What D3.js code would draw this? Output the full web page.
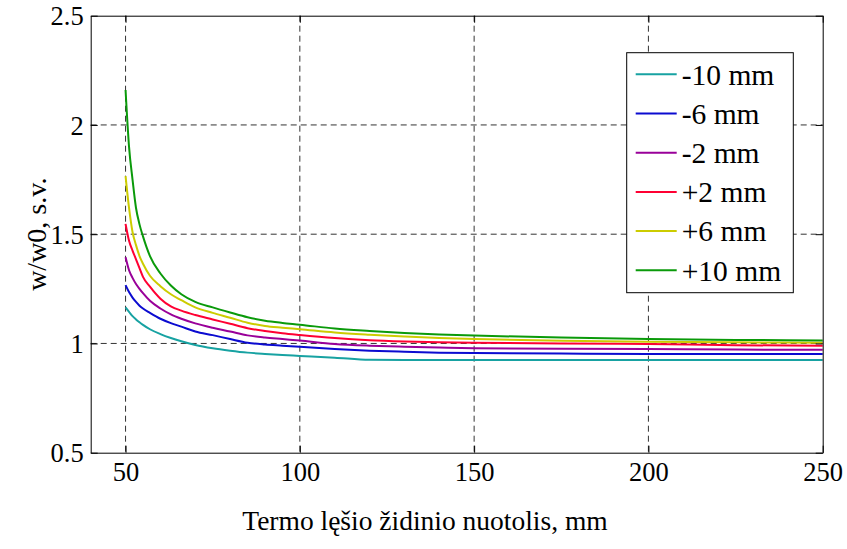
<!DOCTYPE html>
<meta charset="utf-8">
<script src="https://d3js.org/d3.v7.min.js"></script>
<style>
  body { margin: 0; background: #fff; }
  text { font-family: "Liberation Serif", "Times New Roman", serif; fill: #000; }
  .grid line { stroke: #333; stroke-dasharray: 6,4; stroke-width: 1; }
</style>
<svg id="chart" width="847" height="549"></svg>
<script>
  // focus distance of the lens, mm
  var xs = [50, 51, 52, 53, 54, 55, 57, 60, 63, 66, 70, 75, 80, 85, 90, 95, 100, 110, 120, 130, 140, 150, 175, 200, 225, 250];

  // w/w0 for each offset
  var m10 = [1.165, 1.145, 1.125, 1.11, 1.097, 1.085, 1.065, 1.043, 1.025, 1.01, 0.993, 0.978, 0.967, 0.958, 0.952, 0.947, 0.943, 0.935, 0.925, 0.924, 0.924, 0.924, 0.924, 0.924, 0.924, 0.924];
  var m6 = [1.267, 1.235, 1.21, 1.19, 1.173, 1.16, 1.14, 1.113, 1.093, 1.077, 1.055, 1.038, 1.02, 1.003, 0.995, 0.99, 0.985, 0.975, 0.967, 0.962, 0.958, 0.956, 0.954, 0.952, 0.952, 0.952];
  var m2 = [1.394, 1.335, 1.30, 1.272, 1.25, 1.23, 1.195, 1.16, 1.133, 1.113, 1.092, 1.072, 1.055, 1.037, 1.027, 1.02, 1.013, 0.998, 0.99, 0.985, 0.981, 0.978, 0.976, 0.975, 0.972, 0.971];
  var p2 = [1.547, 1.47, 1.425, 1.385, 1.345, 1.305, 1.26, 1.205, 1.17, 1.15, 1.13, 1.11, 1.09, 1.07, 1.057, 1.047, 1.039, 1.025, 1.015, 1.009, 1.005, 1.003, 1.0, 0.998, 0.992, 0.99];
  var p6 = [1.766, 1.62, 1.51, 1.45, 1.40, 1.365, 1.31, 1.262, 1.225, 1.198, 1.165, 1.14, 1.118, 1.095, 1.08, 1.072, 1.065, 1.05, 1.04, 1.032, 1.025, 1.02, 1.012, 1.008, 1.005, 1.003];
  var p10 = [2.16, 1.90, 1.75, 1.62, 1.545, 1.49, 1.40, 1.32, 1.265, 1.225, 1.19, 1.165, 1.142, 1.12, 1.104, 1.094, 1.086, 1.068, 1.057, 1.048, 1.041, 1.036, 1.027, 1.020, 1.016, 1.014];

  var names = ["-10 mm", "-6 mm", "-2 mm", "+2 mm", "+6 mm", "+10 mm"];
  var colors = ["#17a2a2", "#0b0bd0", "#990099", "#ff0033", "#cccc00", "#0a9a0a"];
  var series = [m10, m6, m2, p2, p6, p10];

  var xTicks = [50, 100, 150, 200, 250];
  var yTicks = [0.5, 1, 1.5, 2, 2.5];

  var svg = d3.select("#chart");
  var pLeft = 90.7, pRight = 822.7, pTop = 15.7, pBottom = 452.7;

  var x = d3.scaleLinear().domain([40, 250]).range([pLeft, pRight]);
  var y = d3.scaleLinear().domain([0.5, 2.5]).range([pBottom, pTop]);

  // grid
  var grid = svg.append("g").attr("class", "grid");
  grid.selectAll(".vx").data(xTicks.slice(0, -1)).enter().append("line")
    .attr("x1", d => x(d)).attr("x2", d => x(d))
    .attr("y1", pTop).attr("y2", pBottom);
  grid.selectAll(".hy").data(yTicks.slice(1, -1)).enter().append("line")
    .attr("x1", pLeft).attr("x2", pRight)
    .attr("y1", d => y(d)).attr("y2", d => y(d));

  // curves
  var line = d3.line()
    .x((d, i) => x(xs[i]))
    .y(d => y(d))
    .curve(d3.curveMonotoneX);

  svg.append("g").selectAll("path")
    .data(series)
    .enter()
    .append("path")
    .attr("d", line)
    .attr("fill", "none")
    .attr("stroke", (d, i) => colors[i])
    .attr("stroke-width", 2);

  // axes box with inner ticks (matlab style)
  var xAxis = svg.append("g").attr("transform", "translate(0," + pBottom + ")")
    .call(d3.axisBottom(x).tickValues(xTicks).tickSizeInner(-7).tickSizeOuter(0).tickPadding(9));
  var xTop = svg.append("g").attr("transform", "translate(0," + pTop + ")")
    .call(d3.axisTop(x).tickValues(xTicks).tickSizeInner(-7).tickSizeOuter(0).tickFormat(""));
  var yAxis = svg.append("g").attr("transform", "translate(" + pLeft + ",0)")
    .call(d3.axisLeft(y).tickValues(yTicks).tickFormat(d => String(d)).tickSizeInner(-7).tickSizeOuter(0).tickPadding(7));
  var yRight = svg.append("g").attr("transform", "translate(" + pRight + ",0)")
    .call(d3.axisRight(y).tickValues(yTicks).tickSizeInner(-7).tickSizeOuter(0).tickFormat(""));

  [xAxis, xTop, yAxis, yRight].forEach(function (g) {
    g.select(".domain").attr("stroke", "#000").attr("stroke-width", 1);
    g.selectAll("line").attr("stroke", "#000");
    g.selectAll("text")
      .style("font-size", "26.5px")
      .style("font-family", "Liberation Serif");
  });
  yAxis.selectAll("text").attr("dy", "0.35em");

  // axis labels
  svg.append("text")
    .attr("x", 425)
    .attr("y", 530)
    .attr("text-anchor", "middle")
    .style("font-size", "27.5px")
    .text("Termo lęšio židinio nuotolis, mm");

  svg.append("text")
    .attr("transform", "translate(46," + ((pTop + pBottom) / 2) + ") rotate(-90)")
    .attr("text-anchor", "middle")
    .style("font-size", "28px")
    .text("w/w0, s.v.");

  // legend
  var lg = svg.append("g");
  lg.append("rect")
    .attr("x", 626.7).attr("y", 52.7)
    .attr("width", 166.6).attr("height", 240)
    .attr("fill", "#fff").attr("stroke", "#000").attr("stroke-width", 1);

  var rows = lg.selectAll(".row").data(names).enter().append("g")
    .attr("transform", (d, i) => "translate(0," + (74.3 + i * 39.2) + ")");
  rows.append("line")
    .attr("x1", 635.7).attr("x2", 676.7)
    .attr("stroke", (d, i) => colors[i]).attr("stroke-width", 2);
  rows.append("text")
    .attr("x", 681.7).attr("dy", "0.35em")
    .style("font-size", "29.5px")
    .text(d => d);
</script>
